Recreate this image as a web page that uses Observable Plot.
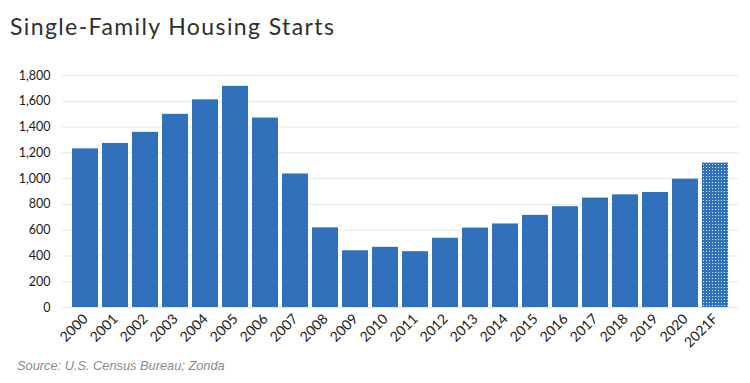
<!DOCTYPE html>
<html>
<head>
<meta charset="utf-8">
<script src="https://cdn.jsdelivr.net/npm/d3@7"></script>
<script src="https://cdn.jsdelivr.net/npm/@observablehq/plot@0.6"></script>
<style>
  html, body { margin: 0; padding: 0; background: #fff; }
  #wrap { width: 750px; height: 383px; position: relative; overflow: hidden; }
  #title { position: absolute; left: 10px; top: 12px; line-height: 28px; font-family: Lato, sans-serif; font-size: 23px; letter-spacing: 1.4px; color: #2e2e2e; }
  #chart { position: absolute; left: 0; top: 52px; }
  #caption { position: absolute; left: 17px; top: 358px; font-family: "Liberation Sans", Arial, sans-serif; font-style: italic; font-size: 12.8px; color: #8a8a8a; }
</style>
</head>
<body>
<div id="wrap">
  <div id="title">Single-Family Housing Starts</div>
  <div id="chart"></div>
  <div id="caption">Source: U.S. Census Bureau; Zonda</div>
</div>
<script>
const years = ["2000","2001","2002","2003","2004","2005","2006","2007","2008","2009","2010","2011","2012","2013","2014","2015","2016","2017","2018","2019","2020","2021F"];
const starts = [1231,1273,1359,1499,1611,1716,1470,1036,618,440,467,433,537,616,648,715,782,849,874,892,995,1120];
const forecast = [false,false,false,false,false,false,false,false,false,false,false,false,false,false,false,false,false,false,false,false,false,true];
const yTicks = [0,200,400,600,800,1000,1200,1400,1600,1800];

const data = years.map((y, i) => ({year: y, value: starts[i], fc: forecast[i]}));
const blue = "#3170BB";

const plot = Plot.plot({
  width: 750,
  height: 300,
  marginLeft: 62,
  marginRight: 12,
  marginTop: 23,
  marginBottom: 45,
  style: {fontFamily: "Lato, sans-serif", fontSize: "12.5px", color: "#1a1a1a", background: "#fff"},
  x: {domain: years, padding: 0.15, paddingOuter: 0.1, label: null},
  y: {domain: [0, 1800], label: null},
  marks: [
    Plot.ruleY(yTicks, {stroke: "#e6e6e6", strokeWidth: 1}),
    Plot.barY(data.filter(d => !d.fc), {x: "year", y: "value", fill: blue}),
    Plot.barY(data.filter(d => d.fc), {x: "year", y: "value", fill: "url(#dots)"}),
    Plot.axisY({ticks: yTicks, tickFormat: d3.format(","), tickSize: 0, tickPadding: 12, label: null, fontSize: 12.5}),
    Plot.axisX({tickSize: 0, tickPadding: 9, tickRotate: -45, label: null, fontSize: 14})
  ]
});

const svg = d3.select(plot);
const defs = svg.insert("defs", ":first-child");
const pat = defs.append("pattern").attr("id", "dots").attr("patternUnits", "userSpaceOnUse")
  .attr("width", 3).attr("height", 3);
pat.append("rect").attr("width", 3).attr("height", 3).attr("fill", blue);
pat.append("rect").attr("x", 1).attr("y", 1).attr("width", 1).attr("height", 1).attr("fill", "#ffffff").attr("opacity", 0.85);

document.getElementById("chart").appendChild(plot);
</script>
</body>
</html>
